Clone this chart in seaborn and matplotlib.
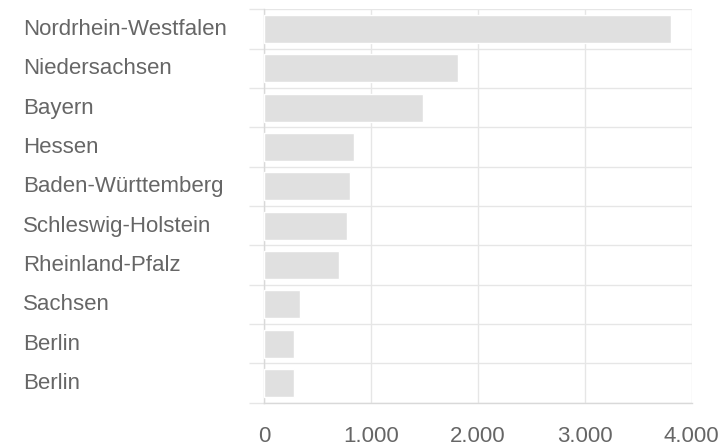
import matplotlib
matplotlib.use("Agg")
import matplotlib.pyplot as plt
import matplotlib.transforms as mtransforms
import seaborn as sns
import pandas as pd
from matplotlib.ticker import FuncFormatter, FixedLocator

states = ["Nordrhein-Westfalen", "Niedersachsen", "Bayern", "Hessen",
          "Baden-Württemberg", "Schleswig-Holstein", "Rheinland-Pfalz",
          "Sachsen", "Berlin", "Berlin"]
values = [3810, 1812, 1487, 839, 801, 773, 702, 334, 278, 278]
x_ticks = [0, 1000, 2000, 3000, 4000]

sns.set_theme(style="white")
plt.rcParams['font.family'] = ['Liberation Sans', 'DejaVu Sans']

df = pd.DataFrame({"pos": list(range(len(states))), "value": values})

fig = plt.figure(figsize=(7.24, 4.46), dpi=100)
ax = fig.add_axes([264 / 724, 1 - 402.7 / 446, (691.7 - 264) / 724, (402.7 - 9.3) / 446])

sns.barplot(data=df, x="value", y="pos", orient="h", color="#e0e0e0",
            saturation=1, width=0.71, ax=ax, zorder=3)

grid_c = "#e6e6e6"
axis_c = "#d9d9d9"
ax.set_xlim(0, 4000)
ax.set_ylim(len(states) - 0.5, -0.5)
ax.set_xlabel("")
ax.set_ylabel("")

ax.xaxis.set_major_locator(FixedLocator(x_ticks))
ax.xaxis.set_major_formatter(FuncFormatter(lambda v, p: f"{int(v):,}".replace(",", ".")))
ax.set_yticks(range(len(states)))
ax.set_yticklabels(states)
ax.yaxis.set_minor_locator(FixedLocator([i - 0.5 for i in range(len(states) + 1)]))

ax.grid(axis="x", which="major", color=grid_c, linewidth=1.0, zorder=0)
ax.grid(axis="y", which="minor", color=grid_c, linewidth=1.0, zorder=0)
ax.grid(axis="y", which="major", visible=False)
ax.set_axisbelow(True)

ax.tick_params(axis="x", which="major", length=10, width=1.0, color=grid_c,
               labelsize=16, labelcolor="#666666", pad=7)
ax.tick_params(axis="y", which="major", length=0, labelsize=16,
               labelcolor="#666666", pad=241 * 0.72)
ax.tick_params(axis="y", which="minor", length=11, width=1.0, color=grid_c, left=True)
shift = mtransforms.ScaledTranslation(0, 2 / 100, fig.dpi_scale_trans)
for lab in ax.get_yticklabels():
    lab.set_horizontalalignment("left")
    lab.set_transform(lab.get_transform() + shift)

for s in ["top", "right"]:
    ax.spines[s].set_visible(False)
ax.spines["left"].set_color(axis_c)
ax.spines["bottom"].set_color(axis_c)
ax.spines["left"].set_linewidth(1.0)
ax.spines["bottom"].set_linewidth(1.0)

fig.savefig("out.png", dpi=100)
